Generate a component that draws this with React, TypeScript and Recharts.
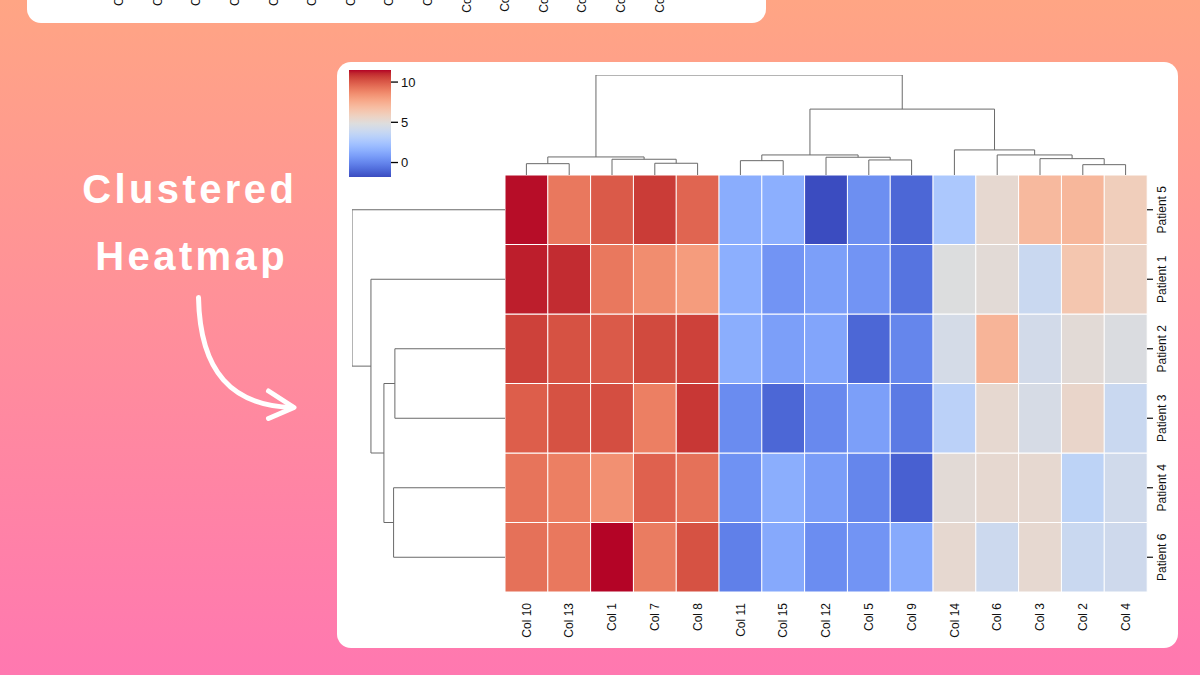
import React from 'react';
import { BarChart, Bar, XAxis, YAxis, Cell, LineChart, Line } from 'recharts';

// ---------- data ----------
const COLUMNS = ['Col 10', 'Col 13', 'Col 1', 'Col 7', 'Col 8', 'Col 11', 'Col 15', 'Col 12', 'Col 5', 'Col 9', 'Col 14', 'Col 6', 'Col 3', 'Col 2', 'Col 4'];
const PATIENTS = ['Patient 5', 'Patient 1', 'Patient 2', 'Patient 3', 'Patient 4', 'Patient 6'];

const patient5 = [11.4, 9.2, 10.0, 10.7, 9.7, 1.4, 1.5, -1.8, 0.3, -1.0, 2.7, 5.3, 7.0, 7.1, 6.0];
const patient1 = [11.2, 11.0, 9.2, 8.6, 8.1, 1.5, 0.5, 0.9, 0.5, -0.6, 4.8, 5.1, 3.9, 6.4, 5.6];
const patient2 = [10.6, 10.2, 10.0, 10.4, 10.6, 1.45, 0.9, 1.1, -1.0, 0.0, 4.4, 7.2, 4.3, 5.1, 4.7];
const patient3 = [9.9, 10.2, 10.3, 9.0, 10.8, 0.2, -1.0, 0.1, 0.9, -0.4, 3.3, 5.3, 4.5, 5.5, 3.9];
const patient4 = [9.3, 9.0, 8.5, 9.8, 9.4, 0.4, 1.45, 0.8, 0.0, -1.2, 5.1, 5.3, 5.3, 3.4, 4.2];
const patient6 = [9.4, 9.2, 11.5, 9.1, 10.2, -0.2, 1.25, 0.25, 0.5, 1.3, 5.3, 4.0, 5.3, 3.9, 4.1];

// linkage: [childA, childB, merge height]; leaves are 0..n-1 in display order
const COL_LINKAGE: [number, number, number][] = [
  [13, 14, 10.3],
  [0, 1, 11.3],
  [3, 4, 11.7],
  [5, 6, 14.3],
  [8, 9, 15.0],
  [2, 17, 15.7],
  [12, 15, 16.3],
  [7, 19, 17.7],
  [16, 20, 18.0],
  [18, 22, 20.0],
  [11, 21, 20.0],
  [10, 25, 25.0],
  [24, 26, 65.7],
  [23, 27, 99.7],
];
const ROW_LINKAGE: [number, number, number][] = [
  [2, 3, 110.4],
  [4, 5, 111.7],
  [6, 7, 121.4],
  [1, 8, 134.4],
  [0, 9, 153.4],
];

const COLORBAR_TICKS = [0, 5, 10];
const TOP_CARD_LABELS = ['Col 1', 'Col 2', 'Col 3', 'Col 4', 'Col 5', 'Col 6', 'Col 7', 'Col 8', 'Col 9', 'Col 10', 'Col 11', 'Col 12', 'Col 13', 'Col 14', 'Col 15'];
const TITLE_LINES = ['Clustered', 'Heatmap'];

// ---------- colormap (coolwarm) ----------
const COOLWARM: [number, number, number][] = [
  [59, 76, 192], [68, 90, 204], [77, 104, 215], [87, 117, 225], [98, 130, 234], [108, 142, 241],
  [119, 154, 247], [130, 165, 251], [141, 176, 254], [152, 185, 255], [163, 194, 255], [174, 201, 253],
  [184, 208, 249], [194, 213, 244], [204, 217, 238], [213, 219, 230], [221, 221, 221], [229, 216, 209],
  [236, 211, 197], [241, 204, 184], [245, 196, 172], [247, 187, 160], [247, 177, 148], [247, 166, 135],
  [244, 154, 123], [241, 141, 111], [236, 127, 99], [229, 112, 88], [222, 96, 77], [213, 80, 66],
  [203, 62, 56], [192, 40, 47], [180, 4, 38],
];
function coolwarm(t: number): string {
  const c = Math.max(0, Math.min(1, t));
  const f = c * (COOLWARM.length - 1);
  const i = Math.floor(f);
  const j = Math.min(i + 1, COOLWARM.length - 1);
  const r = f - i;
  const a = COOLWARM[i];
  const b = COOLWARM[j];
  const m = (k: number) => Math.round(a[k] + (b[k] - a[k]) * r);
  return `rgb(${m(0)},${m(1)},${m(2)})`;
}

const MATRIX = [patient5, patient1, patient2, patient3, patient4, patient6];
const ALL_VALUES = MATRIX.flat();
const VMIN = Math.min(...ALL_VALUES);
const VMAX = Math.max(...ALL_VALUES);
const colorOf = (v: number) => coolwarm((v - VMIN) / (VMAX - VMIN));

// stacked layers bottom-up: layer j corresponds to PATIENTS[n-1-j]
const NROWS = PATIENTS.length;
const heatData = COLUMNS.map((col) => {
  const row: any = { col };
  for (let j = 0; j < NROWS; j++) row[`r${j}`] = 1;
  return row;
});

function buildLinks(n: number, linkage: [number, number, number][]) {
  const pos: number[] = [];
  const hgt: number[] = [];
  for (let i = 0; i < n; i++) {
    pos[i] = i + 0.5;
    hgt[i] = 0;
  }
  return linkage.map(([a, b, h], k) => {
    const id = n + k;
    pos[id] = (pos[a] + pos[b]) / 2;
    hgt[id] = h;
    return [
      { p: pos[a], h: hgt[a] },
      { p: pos[a], h },
      { p: pos[b], h },
      { p: pos[b], h: hgt[b] },
    ];
  });
}
const colLinks = buildLinks(COLUMNS.length, COL_LINKAGE);
const rowLinks = buildLinks(PATIENTS.length, ROW_LINKAGE);
const COL_MAXH = Math.max(...COL_LINKAGE.map((l) => l[2]));
const ROW_MAXH = Math.max(...ROW_LINKAGE.map((l) => l[2]));

const FONT = '"Liberation Sans", Arial, Helvetica, sans-serif';
const DENDRO = '#6a6a6a';

// gradient stops top (max, red) to bottom (min, blue), offsets increasing
const GRAD_STOPS = COOLWARM.map((c, k) => ({
  offset: k / (COOLWARM.length - 1),
  color: `rgb(${c[0]},${c[1]},${c[2]})`,
})).reverse().map((s) => ({ offset: 1 - s.offset, color: s.color }));

const BottomTick = (props: any) => {
  const { x, y, payload } = props;
  return (
    <g transform={`translate(${x},${y})`}>
      <text transform="rotate(-90)" textAnchor="end" dy="0.35em" fontSize={12} fill="#111" fontFamily={FONT}>
        {payload.value}
      </text>
    </g>
  );
};

const RightTick = (props: any) => {
  const { x, y, payload } = props;
  const label = PATIENTS[NROWS - 1 - Math.floor(payload.value)];
  return (
    <g transform={`translate(${x},${y})`}>
      <text transform="rotate(-90)" textAnchor="middle" dy="0.71em" fontSize={12} fill="#111" fontFamily={FONT}>
        {label}
      </text>
    </g>
  );
};

const rowTicks = PATIENTS.map((_, i) => i + 0.5);

export default function App() {
  return (
    <div
      style={{
        position: 'absolute',
        left: 0,
        top: 0,
        width: 1200,
        height: 675,
        overflow: 'hidden',
        background: 'linear-gradient(180deg, #FFA584 0%, #FF8E9B 50%, #FF78B0 100%)',
        fontFamily: FONT,
      }}
    >
      <svg width={1200} height={675} style={{ position: 'absolute', left: 0, top: 0 }}>
        {/* partial card at the top */}
        <rect x={27} y={-40} width={739} height={63} rx={14} ry={14} fill="#ffffff" />
        {TOP_CARD_LABELS.map((l, i) => (
          <g key={l} transform={`translate(${119 + i * 38.6},-22)`}>
            <text transform="rotate(-90)" textAnchor="end" dy="0.35em" fontSize={12} fill="#111" fontFamily={FONT}>
              {l}
            </text>
          </g>
        ))}
        {/* main card */}
        <rect x={337} y={62} width={841} height={586} rx={14} ry={14} fill="#ffffff" />
        {/* title */}
        {TITLE_LINES.map((t, i) => (
          <text
            key={t}
            x={i === 0 ? 189.7 : 191.7}
            y={i === 0 ? 203 : 270}
            textAnchor="middle"
            fontSize={40}
            fontWeight={700}
            letterSpacing={3.4}
            fill="#ffffff"
            fontFamily={FONT}
          >
            {t}
          </text>
        ))}
        {/* arrow */}
        <path d="M198.5 297.5 C 200 372, 232 406, 293 407.5" stroke="#ffffff" strokeWidth={5} fill="none" strokeLinecap="round" />
        <path d="M268.5 391 L 294 407.5 L 268.5 418.5" stroke="#ffffff" strokeWidth={5} fill="none" strokeLinecap="round" strokeLinejoin="round" />
      </svg>

      {/* colorbar */}
      <div style={{ position: 'absolute', left: 349, top: 70 }}>
        <BarChart width={82} height={107} data={[{ name: 'cb', range: [VMIN, VMAX] }]} margin={{ top: 0, right: 0, bottom: 0, left: 0 }} barCategoryGap={0}>
          <defs>
            <linearGradient id="cbGrad" x1="0" y1="0" x2="0" y2="1">
              {GRAD_STOPS.map((s, k) => (
                <stop key={k} offset={s.offset} stopColor={s.color} />
              ))}
            </linearGradient>
          </defs>
          <XAxis dataKey="name" hide />
          <YAxis
            orientation="right"
            type="number"
            width={40}
            domain={[VMIN, VMAX]}
            allowDataOverflow
            ticks={COLORBAR_TICKS}
            tickSize={7}
            tickMargin={3}
            axisLine={false}
            tickLine={{ stroke: '#000', strokeWidth: 1.3 }}
            tick={{ fontSize: 13, fill: '#111', fontFamily: FONT }}
          />
          <Bar dataKey="range" fill="url(#cbGrad)" isAnimationActive={false} />
        </BarChart>
      </div>

      {/* column dendrogram */}
      <div style={{ position: 'absolute', left: 505, top: 75 }}>
        <LineChart width={642} height={100} margin={{ top: 0, right: 0, bottom: 0, left: 0 }}>
          <XAxis dataKey="p" type="number" domain={[0, COLUMNS.length]} allowDataOverflow hide />
          <YAxis type="number" domain={[0, COL_MAXH]} allowDataOverflow hide />
          {colLinks.map((pts, k) => (
            <Line
              key={k}
              data={pts}
              dataKey="h"
              type="linear"
              stroke={DENDRO}
              strokeWidth={1}
              dot={false}
              activeDot={false}
              isAnimationActive={false}
            />
          ))}
        </LineChart>
      </div>

      {/* row dendrogram */}
      <div style={{ position: 'absolute', left: 352, top: 175 }}>
        <LineChart width={153} height={417} margin={{ top: 0, right: 0, bottom: 0, left: 0 }}>
          <XAxis dataKey="h" type="number" domain={[0, ROW_MAXH]} reversed allowDataOverflow hide />
          <YAxis type="number" domain={[0, PATIENTS.length]} reversed allowDataOverflow hide />
          {rowLinks.map((pts, k) => (
            <Line
              key={k}
              data={pts}
              dataKey="p"
              type="linear"
              stroke={DENDRO}
              strokeWidth={1}
              dot={false}
              activeDot={false}
              isAnimationActive={false}
            />
          ))}
        </LineChart>
      </div>

      {/* heatmap */}
      <div style={{ position: 'absolute', left: 505, top: 175 }}>
        <BarChart width={702} height={477} data={heatData} margin={{ top: 0, right: 0, bottom: 0, left: 0 }} barCategoryGap={0} barGap={0}>
          <XAxis
            dataKey="col"
            type="category"
            height={60}
            interval={0}
            axisLine={false}
            tickLine={false}
            tickSize={0}
            tickMargin={11}
            tick={<BottomTick />}
          />
          <YAxis
            orientation="right"
            type="number"
            width={60}
            domain={[0, NROWS]}
            allowDataOverflow
            ticks={rowTicks}
            interval={0}
            axisLine={false}
            tickSize={6}
            tickMargin={4}
            tickLine={{ stroke: '#111', strokeWidth: 1.2 }}
            tick={<RightTick />}
          />
          {PATIENTS.map((_, j) => {
            const values = MATRIX[NROWS - 1 - j];
            return (
              <Bar key={j} dataKey={`r${j}`} stackId="hm" isAnimationActive={false}>
                {values.map((v, i) => (
                  <Cell key={i} fill={colorOf(v)} stroke="#ffffff" strokeWidth={1} />
                ))}
              </Bar>
            );
          })}
        </BarChart>
      </div>
    </div>
  );
}
